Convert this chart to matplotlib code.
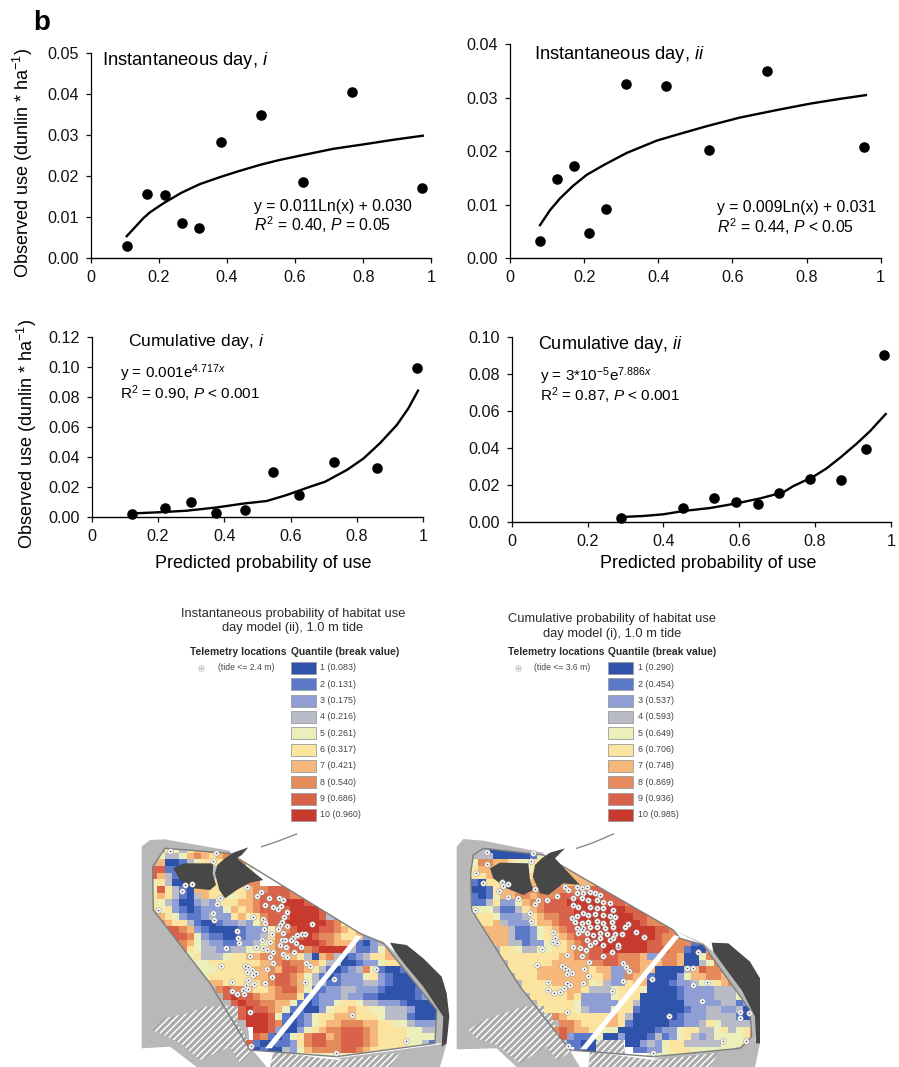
import numpy as np
import matplotlib
matplotlib.use('Agg')
import matplotlib.pyplot as plt
from matplotlib.colors import ListedColormap
from matplotlib.patches import Polygon, Rectangle

plt.rcParams['font.family'] = ['Liberation Sans', 'DejaVu Sans']
plt.rcParams['mathtext.fontset'] = 'custom'
plt.rcParams['mathtext.rm'] = 'Liberation Sans'
plt.rcParams['mathtext.it'] = 'Liberation Sans:italic'
plt.rcParams['hatch.linewidth'] = 1.1

W, H = 899, 1067

# scatter panels
a_x = [.105, .164, .216, .266, .316, .382, .499, .623, .767, .972]
a_y = [.003, .0158, .0154, .0085, .0075, .0283, .035, .0186, .0405, .0172]
a_cx = [.105, .154, .173, .2125, .266, .32, .379, .428, .497, .555, .624, .712, .81, .888, .975]
a_cy = [.0054, .0098, .0112, .0134, .016, .0181, .0198, .0211, .0228, .024, .0252, .0267, .0279, .0289, .0299]

b_x = [.08, .126, .172, .214, .259, .313, .42, .537, .693, .956]
b_y = [.0032, .0149, .0172, .0047, .0093, .0325, .0322, .0202, .035, .0208]
b_cx = [.081, .108, .135, .171, .207, .252, .315, .396, .45, .531, .62, .719, .809, .89, .96]
b_cy = [.0062, .009, .0112, .0136, .0156, .0174, .0197, .022, .0231, .0247, .0263, .0277, .0289, .0298, .0305]

c_x = [.123, .221, .3, .376, .462, .546, .624, .732, .861, .981]
c_y = [.0016, .0058, .0098, .0025, .0045, .0299, .0147, .0368, .0328, .0993]
c_cx = [.123, .196, .286, .377, .462, .528, .588, .658, .704, .769, .819, .869, .92, .955, .984]
c_cy = [.0022, .0029, .004, .0062, .0089, .0105, .0145, .02, .0234, .0312, .0388, .0491, .0613, .0725, .0843]

d_x = [.288, .452, .533, .592, .649, .705, .786, .868, .934, .982]
d_y = [.0018, .0076, .0126, .0106, .0097, .0157, .0229, .0223, .0393, .0901]
d_cx = [.288, .347, .4, .453, .523, .593, .655, .716, .743, .795, .83, .866, .91, .945, .986]
d_cy = [.0025, .0031, .004, .0058, .0074, .0099, .0126, .0159, .0193, .0243, .0288, .0346, .0423, .049, .0582]

x_ticks = [0, .2, .4, .6, .8, 1]
x_labels = ['0', '0.2', '0.4', '0.6', '0.8', '1']

# legends
class_colors = ['#2f52ab', '#5c78c8', '#8f9fd6', '#b9bcc6', '#edefba',
                '#fbe3a0', '#f5b87a', '#e58a5a', '#d9624a', '#c93a2e']
breaks_1 = ['0.083', '0.131', '0.175', '0.216', '0.261', '0.317', '0.421', '0.540', '0.686', '0.960']
breaks_2 = ['0.290', '0.454', '0.537', '0.593', '0.649', '0.706', '0.748', '0.869', '0.936', '0.985']

# quantile class per map cell, 0 stands for class 10, . is no cell
grid_1 = [
    "..65467799900",
    ".54457876789",
    ".711245666778",
    "99223444444445",
    "97421344444445",
    "564112346667788",
    "59642177666667889998877",
    "67642147665567899998877",
    "65431134356677899900098866",
    "6563212333576789999000098765",
    "776532234336756899900009432",
    "88766421123343579900000098567",
    "88998732111123335789000998767733",
    "889998532211233468999098876673321",
    "88998754332233457899000987772134",
    "66668654433445567889989000042235776",
    "55555564445667788877641784123466776",
    "555555556666666778988776441123356675",
    "555555555666667787998764212348521123334",
    "555555556666667789987542123335632111234",
    "5555555577666667899875442233344321111234",
    ".........89887667899752233443332111123",
    "..........9099877888622333433221111123",
    "...........909988775212335665443332111123",
    "............90998752211356676655444311123",
    "............90009521235667776665444211124",
    ".............0009821235677888776655433334",
    "..............0093113567889998766665544445",
    "..............98212568997899987666655555",
    ".............92112236899889998766665542",
    "..............12114357888899876666666",
    "....................5555555555555555",
]
grid_2 = [
    ".41111112767",
    ".44111112567866",
    "588776556677665",
    "67776555556667655",
    "66778866666677777",
    "21667777777777777888",
    "1126777788888888999990999",
    "2125778878889990099987766",
    "2246335788999000009998876",
    "5554224678999900000009998765",
    "666533346788990000000099818876",
    ".66743335778990000000009888776",
    ".77774223567899900000000099887766",
    "..7774223566789900000000098887788",
    "...77442335667899000000099888821",
    "....66544556678999000000999882117888",
    "....6666666677889999888733887115898875",
    ".....6666667777788998887778871145888776",
    ".....666677777776773388771111479888766",
    "......66677777776673387721113577887766",
    ".......66667777756433677111233455678876",
    ".......66666677644456665111123333444566",
    "........66666763333566611111233334445655",
    ".........6666653333366411111133333442345",
    "..........6666543335662111111233443341135",
    "...........87666666764111111233344442135",
    "............88766677621111122334654444566",
    "...........89877665511111233566445645677",
    "............9322251131112423564345555688",
    ".............2211....11343566444445556",
    "..............211.....22335666555555",
    "........................555555555",
]

# telemetry locations, in map coordinates
tele_1 = [(120, 63), (258, 68), (250, 92), (155, 182), (165, 165), (185, 162), (85, 240), (350, 170), (380, 198),
          (393, 187), (405, 225), (270, 205), (262, 222), (250, 250), (252, 270), (320, 303), (325, 325), (328, 338),
          (288, 355), (370, 262), (398, 268), (405, 280), (402, 298), (418, 205), (448, 203), (460, 210), (430, 230),
          (445, 238), (470, 245), (452, 228), (462, 260), (455, 275), (450, 285), (470, 287), (445, 298), (458, 310),
          (425, 312), (545, 283), (395, 330), (420, 335), (378, 352), (398, 355), (410, 360), (428, 367), (360, 378),
          (420, 382), (428, 398), (455, 330), (465, 330), (450, 345), (468, 350), (490, 325), (500, 315), (515, 313),
          (525, 312), (483, 330), (497, 338), (512, 350), (493, 365), (460, 373), (470, 380), (527, 400), (540, 408),
          (345, 408), (355, 410), (365, 420), (378, 428), (352, 425), (368, 435), (412, 418), (425, 440), (405, 458),
          (305, 456), (372, 462), (355, 450), (348, 465), (338, 480), (355, 478), (305, 482), (320, 492), (342, 492),
          (360, 545), (272, 407), (525, 455), (612, 447), (737, 418), (667, 556), (828, 632), (362, 648), (617, 668)]
tele_2 = [(140, 65), (278, 70), (272, 92), (140, 103), (108, 128), (128, 158), (187, 155), (190, 168), (205, 162),
          (178, 182), (205, 200), (233, 205), (285, 178), (295, 210), (285, 222), (320, 210), (350, 197), (105, 240),
          (270, 250), (272, 272), (340, 305), (345, 325), (350, 340), (340, 335), (307, 356), (292, 406), (382, 375),
          (398, 352), (420, 355), (438, 360), (425, 378), (448, 395), (490, 378), (515, 365), (535, 350), (565, 283),
          (555, 290), (588, 305), (612, 320), (375, 170), (385, 180), (410, 170), (425, 175), (440, 170), (410, 190),
          (430, 190), (450, 185), (465, 190), (480, 195), (400, 205), (425, 205), (445, 210), (470, 210), (490, 215),
          (510, 218), (400, 225), (415, 230), (450, 232), (470, 235), (490, 235), (520, 240), (395, 265), (410, 258),
          (430, 250), (445, 255), (465, 252), (490, 255), (510, 258), (525, 262), (405, 275), (425, 280), (445, 275),
          (470, 272), (490, 280), (515, 275), (410, 295), (430, 295), (450, 290), (470, 292), (495, 295), (520, 290),
          (415, 310), (440, 310), (460, 315), (480, 310), (500, 312), (525, 312), (545, 312), (440, 330), (465, 335),
          (490, 345), (510, 330), (535, 345), (450, 345), (425, 300), (480, 325), (520, 325), (365, 408), (375, 415),
          (385, 420), (395, 430), (380, 432), (432, 418), (445, 438), (380, 460), (372, 475), (390, 465), (360, 485),
          (342, 490), (325, 480), (325, 455), (430, 460), (550, 453), (515, 482), (550, 400), (558, 410), (568, 422),
          (382, 545), (635, 447), (760, 465), (800, 455), (740, 415), (760, 415), (775, 367), (785, 512), (687, 557),
          (900, 545), (928, 550), (900, 565), (850, 632), (918, 633), (385, 648), (638, 668)]

# map outlines and land shapes, in map coordinates
outline_1 = [(105, 55), (300, 70), (690, 310), (760, 340), (920, 540), (915, 640), (620, 680), (360, 660), (240, 460), (70, 240), (68, 110)]
land_1 = [(35, 50), (60, 30), (105, 28), (300, 62), (360, 650), (410, 711), (200, 711), (120, 650), (35, 655)]
land_1b = [(620, 685), (915, 645), (950, 640), (930, 711), (780, 711)]
land_1c = [(690, 310), (760, 335), (840, 410), (945, 530), (945, 640), (915, 640), (920, 540)]
hatch_1a = [(62, 600), (100, 565), (170, 550), (230, 530), (330, 525), (320, 575), (370, 660), (330, 700), (300, 650), (210, 690), (150, 640), (90, 610)]
hatch_1b = [(430, 665), (620, 690), (810, 668), (780, 711), (420, 711)]
dark_1a = [(130, 115), (160, 100), (250, 100), (248, 130), (258, 165), (240, 180), (190, 175), (150, 150)]
dark_1b = [(262, 105), (285, 85), (310, 68), (355, 52), (335, 75), (320, 85), (345, 105), (400, 150), (360, 158), (320, 180), (285, 205), (268, 180), (255, 130)]
dark_1c = [(780, 338), (830, 345), (880, 385), (935, 440), (950, 490), (958, 560), (950, 640), (935, 650), (940, 560), (920, 530), (880, 470), (830, 410), (795, 365)]
strip_1 = [(405, 655), (425, 655), (695, 320), (680, 315)]
streak_1 = [(395, 50), (440, 35), (500, 12)]

outline_2 = [(100, 75), (130, 55), (310, 75), (700, 300), (720, 325), (790, 345), (930, 540), (935, 620), (900, 655), (640, 680), (390, 660), (240, 470), (95, 240), (92, 130)]
land_2 = [(50, 50), (70, 27), (130, 32), (310, 68), (385, 655), (420, 711), (230, 711), (170, 655), (50, 658)]
land_2b = [(640, 685), (935, 625), (960, 640), (945, 711), (820, 711)]
land_2c = [(700, 300), (790, 340), (860, 400), (950, 530), (945, 640), (930, 620), (930, 540), (790, 345)]
hatch_2a = [(85, 600), (130, 570), (190, 550), (250, 530), (340, 525), (340, 575), (395, 665), (350, 690), (320, 650), (240, 700), (170, 645), (110, 625)]
hatch_2b = [(450, 665), (640, 690), (835, 668), (810, 711), (445, 711)]
hatch_2c = [(470, 625), (550, 620), (555, 675), (460, 665)]
dark_2a = [(150, 115), (180, 98), (265, 100), (270, 150), (280, 180), (250, 195), (200, 175), (160, 145)]
dark_2b = [(285, 105), (305, 85), (330, 68), (375, 55), (345, 85), (420, 165), (370, 160), (325, 195), (300, 190), (278, 140)]
dark_2c = [(815, 338), (865, 340), (930, 395), (960, 445), (960, 640), (948, 640), (945, 560), (905, 480), (860, 420), (820, 365)]
strip_2 = [(420, 658), (440, 658), (718, 320), (702, 315)]
streak_2 = [(410, 55), (460, 38), (520, 12)]


def px_axes(x0, x1, ybot, ytop):
    return fig.add_axes([x0 / W, 1 - ybot / H, (x1 - x0) / W, (ybot - ytop) / H])


def panel(box, xs, ys, cx, cy, yticks, ylabels):
    ax = px_axes(*box)
    ax.plot(cx, cy, color='black', lw=1.7, clip_on=False, zorder=2)
    ax.scatter(xs, ys, s=58, color='black', clip_on=False, zorder=3, linewidths=0)
    ax.set_xlim(0, 1)
    ax.set_ylim(yticks[0], yticks[-1])
    ax.set_xticks(x_ticks)
    ax.set_xticklabels(x_labels)
    ax.set_yticks(yticks)
    ax.set_yticklabels(ylabels)
    ax.tick_params(labelsize=11.6, length=3.5, width=0.9, colors='#111111', pad=5)
    ax.spines['top'].set_visible(False)
    ax.spines['right'].set_visible(False)
    ax.spines['left'].set_linewidth(0.9)
    ax.spines['bottom'].set_linewidth(1.0)
    ax.patch.set_alpha(0)
    return ax


def draw_map(box, grid, x0, outline, tele, land, hatches, darks, strip, streak):
    ax = fig.add_axes([box[0] / W, 1 - box[3] / H, (box[2] - box[0]) / W, (box[3] - box[1]) / H])
    ax.set_xlim(0, 960)
    ax.set_ylim(711, 0)
    ax.axis('off')
    ax.patch.set_alpha(0)
    for shape in land:
        ax.add_patch(Polygon(shape, facecolor='#b8b8b8', edgecolor='none', zorder=1))
    for shape in hatches:
        ax.add_patch(Polygon(shape, facecolor='#a9a9a9', edgecolor='white', hatch='/////', lw=0, zorder=2))
    ncol = 40
    vals = np.full((len(grid), ncol), np.nan)
    for r, row in enumerate(grid):
        for c, ch in enumerate(row[:ncol]):
            if ch != '.':
                vals[r, c] = int(ch) if ch != '0' else 10
    cmap = ListedColormap(class_colors)
    im = ax.imshow(np.ma.masked_invalid(vals), cmap=cmap, vmin=0.5, vmax=10.5, interpolation='nearest',
                   extent=(x0, x0 + 22 * ncol, 50 + 20 * len(grid), 50), aspect='auto', zorder=3)
    ax.set_xlim(0, 960)
    ax.set_ylim(711, 0)
    clip = Polygon(outline, transform=ax.transData)
    im.set_clip_path(clip)
    ax.add_patch(Polygon(outline, facecolor='none', edgecolor='#7d7d7d', lw=1.0, zorder=4))
    for shape in darks:
        ax.add_patch(Polygon(shape, facecolor='#474747', edgecolor='none', zorder=5))
    ax.add_patch(Polygon(strip, facecolor='white', edgecolor='none', zorder=5))
    sx, sy = zip(*streak)
    ax.plot(sx, sy, color='#8a8a8a', lw=1.0, zorder=2)
    tx, ty = zip(*tele)
    ax.scatter(tx, ty, s=16, facecolor='white', edgecolor='#9a9a9a', linewidths=0.4, zorder=6)
    ax.scatter(tx, ty, s=1.6, color='#555555', linewidths=0, zorder=7)


def legend(title1, title2, title_x, title_y, head_x, quant_x, text_x, mark_x, tide_x, tide, breaks):
    over.text(title_x, title_y, title1, ha='center', va='center', fontsize=9.25, color='#2a2a2a')
    over.text(title_x, title_y + 14.5, title2, ha='center', va='center', fontsize=9.25, color='#2a2a2a')
    over.text(head_x, 652, 'Telemetry locations', ha='left', va='center', fontsize=7.4, fontweight='bold', color='#2a2a2a')
    over.text(quant_x, 652, 'Quantile (break value)', ha='left', va='center', fontsize=7.4, fontweight='bold', color='#2a2a2a')
    over.scatter([mark_x], [668], s=14, facecolor='white', edgecolor='#b5b5b5', linewidths=0.6)
    over.scatter([mark_x], [668], s=1.5, color='#777777', linewidths=0)
    over.text(tide_x, 668, tide, ha='left', va='center', fontsize=6.2, color='#444444')
    for i, (col, b) in enumerate(zip(class_colors, breaks)):
        y = 662 + i * 16.33
        over.add_patch(Rectangle((quant_x, y), 25, 12, facecolor=col, edgecolor='#9b9b9b', lw=0.6))
        over.text(text_x, y + 6, '%d (%s)' % (i + 1, b), ha='left', va='center', fontsize=6.4, color='#444444')


fig = plt.figure(figsize=(W / 100, H / 100), dpi=100)

draw_map((130, 830, 450, 1067), grid_1, 60, outline_1, tele_1, [land_1, land_1b, land_1c], [hatch_1a, hatch_1b],
         [dark_1a, dark_1b, dark_1c], strip_1, streak_1)
draw_map((440, 830, 760, 1067), grid_2, 92, outline_2, tele_2, [land_2, land_2b, land_2c], [hatch_2a, hatch_2b, hatch_2c],
         [dark_2a, dark_2b, dark_2c], strip_2, streak_2)

panel((91, 431.3, 258.3, 53.3), a_x, a_y, a_cx, a_cy, [0, .01, .02, .03, .04, .05],
      ['0.00', '0.01', '0.02', '0.03', '0.04', '0.05'])
panel((510, 880.7, 258.3, 44.3), b_x, b_y, b_cx, b_cy, [0, .01, .02, .03, .04],
      ['0.00', '0.01', '0.02', '0.03', '0.04'])
panel((91.7, 423.3, 516.7, 337.3), c_x, c_y, c_cx, c_cy, [0, .02, .04, .06, .08, .10, .12],
      ['0.00', '0.02', '0.04', '0.06', '0.08', '0.10', '0.12'])
panel((511.7, 891, 521.7, 336.7), d_x, d_y, d_cx, d_cy, [0, .02, .04, .06, .08, .10],
      ['0.00', '0.02', '0.04', '0.06', '0.08', '0.10'])

# overlay in picture pixels for the free text
over = fig.add_axes([0, 0, 1, 1])
over.set_xlim(0, W)
over.set_ylim(H, 0)
over.axis('off')
over.patch.set_alpha(0)

over.text(33, 30, 'b', fontsize=20, fontweight='bold', ha='left', va='baseline')

over.text(102, 65, r'Instantaneous day, $\mathit{i}$', fontsize=13.2, va='baseline')
over.text(254, 211, 'y = 0.011Ln(x) + 0.030', fontsize=11.3, va='baseline')
over.text(254, 231, r'$\mathit{R}^{2}$ = 0.40, $\mathit{P}$ = 0.05', fontsize=11.3, va='baseline')

over.text(534, 59, r'Instantaneous day, $\mathit{ii}$', fontsize=13.2, va='baseline')
over.text(717, 212, 'y = 0.009Ln(x) + 0.031', fontsize=11.3, va='baseline')
over.text(717, 233, r'$\mathit{R}^{2}$ = 0.44, $\mathit{P}$ < 0.05', fontsize=11.3, va='baseline')

over.text(128, 346, r'Cumulative day, $\mathit{i}$', fontsize=12.6, va='baseline')
over.text(120, 378, r'y = 0.001e$^{4.717x}$', fontsize=11, va='baseline')
over.text(120, 399, r'R$^{2}$ = 0.90, $\mathit{P}$ < 0.001', fontsize=11, va='baseline')

over.text(538, 349, r'Cumulative day, $\mathit{ii}$', fontsize=13, va='baseline')
over.text(540, 381, r'y = 3*10$^{-5}$e$^{7.886x}$', fontsize=11, va='baseline')
over.text(540, 401, r'R$^{2}$ = 0.87, $\mathit{P}$ < 0.001', fontsize=11, va='baseline')

ylab = r'Observed use (dunlin * ha$^{-1}$)'
over.text(23, 163, ylab, rotation=90, fontsize=13, ha='center', va='center')
over.text(27, 434, ylab, rotation=90, fontsize=13, ha='center', va='center')
over.text(263, 568, 'Predicted probability of use', fontsize=12.9, ha='center', va='baseline')
over.text(708, 568, 'Predicted probability of use', fontsize=12.9, ha='center', va='baseline')

legend('Instantaneous probability of habitat use', 'day model (ii), 1.0 m tide', 293, 614, 190, 291, 320, 201, 218,
       '(tide <= 2.4 m)', breaks_1)
legend('Cumulative probability of habitat use', 'day model (i), 1.0 m tide', 612, 619, 508, 608, 638, 518, 534,
       '(tide <= 3.6 m)', breaks_2)
over.set_xlim(0, W)
over.set_ylim(H, 0)

fig.savefig('out.png', dpi=100)
